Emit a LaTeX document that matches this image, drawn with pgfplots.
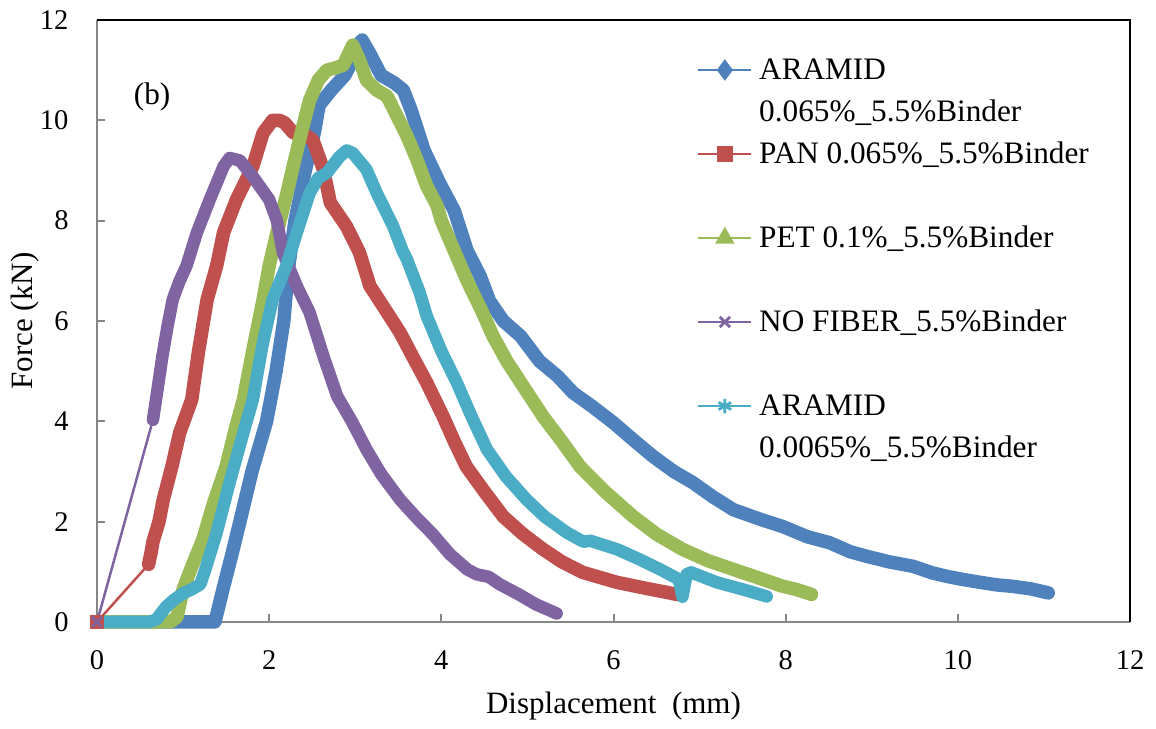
\documentclass[border=0pt]{standalone}
\usepackage{fontspec}
\setmainfont{Liberation Serif}
\usepackage{pgfplots}
\pgfplotsset{compat=1.18}
\usetikzlibrary{calc}
\definecolor{cblue}{HTML}{4F81BD}
\definecolor{cred}{HTML}{C0504D}
\definecolor{cgreen}{HTML}{9BBB59}
\definecolor{cpurple}{HTML}{8064A2}
\definecolor{ccyan}{HTML}{4BACC6}
\definecolor{axgray}{HTML}{868686}

\pgfplotsset{
  band/.style={line width=5.4pt, line join=round, line cap=round, forget plot},
  nband/.style={line width=5pt, line join=round, line cap=round, forget plot},
  thinline/.style={line width=1pt, forget plot},
  legline/.style={line width=1.1pt, mark options={solid}},
}

\begin{document}
\begin{tikzpicture}
\begin{axis}[
  name=ax,
  scale only axis,
  width=413.2pt, height=240.8pt,
  xmin=0, xmax=12, ymin=0, ymax=12,
  xtick={0,2,...,12}, ytick={0,2,...,12},
  tick align=inside, xtick pos=bottom, ytick pos=left,
  major tick length=3.2pt,
  tick style={color=axgray, line width=0.8pt},
  axis line style={draw=none},
  clip=false,
  /pgf/number format/assume math mode=true,
  ticklabel style={font=\fontsize{11.4}{13}\selectfont},
  xticklabel style={inner sep=0pt, yshift=-11.2pt},
  yticklabel style={inner sep=0pt, xshift=-11.2pt},
  xlabel={Displacement\ \ (mm)},
  ylabel={Force (kN)},
  label style={font=\fontsize{12.4}{14}\selectfont},
  xlabel style={at={(axis description cs:0.5,-0.1395)}, anchor=center},
  ylabel style={at={(axis description cs:-0.0697,0.5)}, anchor=center, rotate=0},
  legend cell align=left,
  legend image code/.code={\draw[mark repeat=2,mark phase=2] plot coordinates {(0pt,0pt) (10.6pt,0pt) (21.2pt,0pt)};},
  legend style={draw=none, fill=none, inner sep=0pt, outer sep=0pt,
    at={(axis description cs:0.5808,0.9518)}, anchor=north west,
    row sep=0pt, column sep=2.6pt,
    font=\fontsize{12.5}{14}\selectfont,
    nodes={inner sep=0pt, text height=12pt, text depth=4.8pt}},
]
\draw[axgray, line width=0.8pt] (rel axis cs:0,1) -- (rel axis cs:0,0) -- (rel axis cs:1,0);
\draw[black, line width=0.9pt] (rel axis cs:0,1) -- (rel axis cs:1,1) -- (rel axis cs:1,0);

% ARAMID 0.065%
\addplot[cblue, band] coordinates {
(0,0) (0.3,0) (0.6,0) (0.9,0) (1.2,0) (1.37,0) (1.42,0.35) (1.47,0.7) (1.56,1.3)
(1.66,2.0) (1.8,3.0) (1.97,4.0) (2.08,5.0) (2.17,6.0) (2.22,7.0) (2.3,8.0) (2.42,9.0)
(2.53,9.8) (2.58,10.3) (2.72,10.6) (2.88,10.9) (2.97,11.2) (3.03,11.5) (3.08,11.6)
(3.18,11.3) (3.3,10.9) (3.45,10.75) (3.56,10.6) (3.65,10.2) (3.8,9.4) (3.98,8.75)
(4.15,8.2) (4.3,7.4) (4.45,6.9) (4.56,6.4) (4.72,6.0) (4.92,5.7) (5.14,5.2) (5.35,4.9)
(5.53,4.57) (5.75,4.3) (6.0,3.97) (6.25,3.6) (6.46,3.3) (6.7,3.0) (6.92,2.78) (7.15,2.5)
(7.39,2.24) (7.7,2.05) (7.97,1.9) (8.25,1.7) (8.51,1.58) (8.75,1.4) (8.94,1.31) (9.2,1.2)
(9.48,1.11) (9.7,0.98) (9.87,0.91) (10.05,0.85) (10.26,0.79) (10.45,0.74) (10.64,0.71)
(10.85,0.66) (11.05,0.58)};

% PAN 0.065%
\addplot[cred, thinline] coordinates {(0,0) (0.6,1.15)};
\addplot[cred, only marks, mark=square*, mark size=2.6pt, forget plot] coordinates {(0,0)};
\addplot[cred, band] coordinates {
(0.6,1.15) (0.63,1.4) (0.65,1.6) (0.72,2.0) (0.77,2.44) (0.87,3.1) (0.96,3.77) (1.03,4.1)
(1.1,4.43) (1.18,5.4) (1.28,6.43) (1.39,7.1) (1.47,7.76) (1.62,8.42) (1.81,9.08)
(1.93,9.75) (2.04,10.0) (2.12,10.0) (2.18,9.95) (2.28,9.75) (2.43,9.7) (2.51,9.6)
(2.63,9.02) (2.71,8.36) (2.9,7.88) (3.05,7.36) (3.17,6.7) (3.37,6.17) (3.52,5.77)
(3.68,5.25) (3.83,4.77) (4.02,4.1) (4.15,3.6) (4.29,3.1) (4.5,2.6) (4.72,2.1) (4.95,1.75)
(5.18,1.45) (5.4,1.2) (5.64,0.99) (6.04,0.79) (6.35,0.68) (6.62,0.59) (6.73,0.55)};

% PET 0.1%
\addplot[cgreen, band] coordinates {
(0,0) (0.3,0) (0.6,0) (0.85,0) (0.93,0.1) (1.0,0.65) (1.1,1.1) (1.23,1.65) (1.36,2.4)
(1.5,3.1) (1.6,3.8) (1.7,4.43) (1.82,5.5) (1.93,6.43) (2.0,7.1) (2.09,7.76) (2.2,8.5)
(2.28,9.09) (2.38,9.8) (2.47,10.4) (2.57,10.8) (2.67,11.0) (2.78,11.05) (2.86,11.1)
(2.93,11.35) (2.97,11.5) (3.05,11.2) (3.13,10.8) (3.25,10.6) (3.37,10.48) (3.48,10.1)
(3.6,9.69) (3.72,9.2) (3.83,8.69) (3.95,8.3) (4.0,8.0) (4.15,7.4) (4.3,6.8) (4.47,6.2)
(4.6,5.7) (4.76,5.2) (4.97,4.65) (5.18,4.1) (5.4,3.6) (5.61,3.1) (5.9,2.6) (6.23,2.1)
(6.5,1.75) (6.8,1.45) (7.1,1.22) (7.39,1.05) (7.7,0.87) (7.95,0.72) (8.12,0.65) (8.3,0.55)};

% NO FIBER
\addplot[cpurple, thinline] coordinates {(0,0) (0.65,4.03)};
\addplot[cpurple, only marks, mark=x, mark size=2.8pt, line width=1pt, forget plot] coordinates {(0,0)};
\addplot[cpurple, nband] coordinates {
(0.65,4.03) (0.7,4.6) (0.76,5.3) (0.82,5.9) (0.88,6.43) (0.96,6.8) (1.04,7.1) (1.16,7.76)
(1.31,8.42) (1.47,9.08) (1.54,9.25) (1.66,9.2) (1.81,8.88) (2.0,8.42) (2.09,8.0)
(2.16,7.36) (2.32,6.7) (2.47,6.17) (2.63,5.3) (2.79,4.5) (2.96,4.0) (3.13,3.44) (3.3,2.95)
(3.52,2.44) (3.7,2.1) (3.9,1.75) (4.1,1.35) (4.3,1.05) (4.41,0.95) (4.55,0.9) (4.68,0.75)
(4.9,0.55) (5.1,0.35) (5.34,0.17)};

% ARAMID 0.0065%
\addplot[ccyan, nband] coordinates {
(0,0) (0.3,0) (0.6,0) (0.69,0.05) (0.8,0.3) (0.9,0.45) (1.0,0.57) (1.1,0.65) (1.2,0.75)
(1.27,1.11) (1.39,1.78) (1.54,2.78) (1.7,3.77) (1.81,4.43) (1.92,5.5) (2.04,6.43)
(2.2,7.1) (2.32,7.76) (2.47,8.55) (2.57,8.85) (2.67,8.95) (2.82,9.28) (2.9,9.4)
(2.97,9.35) (3.13,9.02) (3.25,8.55) (3.44,7.89) (3.55,7.4) (3.6,7.23) (3.75,6.56)
(3.83,6.1) (4.0,5.4) (4.18,4.77) (4.35,4.1) (4.53,3.44) (4.75,2.9) (4.99,2.44) (5.2,2.1)
(5.46,1.78) (5.65,1.6) (5.73,1.62) (6.04,1.45) (6.3,1.25) (6.54,1.05) (6.76,0.85)
(6.8,0.5) (6.85,0.95) (6.9,0.99) (7.2,0.79) (7.5,0.65) (7.78,0.51)};

\addlegendimage{cblue, legline, mark=diamond*, mark size=3.4pt}
\addlegendentry{ARAMID}
\addlegendimage{empty legend}
\addlegendentry{0.065\%\_5.5\%Binder}
\addlegendimage{cred, legline, mark=square*, mark size=2.7pt}
\addlegendentry{PAN 0.065\%\_5.5\%Binder}
\addlegendimage{empty legend}
\addlegendentry{}
\addlegendimage{cgreen, legline, mark=triangle*, mark size=3.4pt}
\addlegendentry{PET 0.1\%\_5.5\%Binder}
\addlegendimage{empty legend}
\addlegendentry{}
\addlegendimage{cpurple, legline, mark=x, mark size=2.9pt}
\addlegendentry{NO FIBER\_5.5\%Binder}
\addlegendimage{empty legend}
\addlegendentry{}
\addlegendimage{ccyan, legline, mark=asterisk, mark size=2.9pt}
\addlegendentry{ARAMID}
\addlegendimage{empty legend}
\addlegendentry{0.0065\%\_5.5\%Binder}

\node[font=\fontsize{12.5}{14}\selectfont] at (axis cs:0.64,10.47) {(b)};
\end{axis}
\path[use as bounding box] ($(ax.south west)+(-38.8pt,-41.6pt)$) rectangle ($(ax.north east)+(10.4pt,8pt)$);
\end{tikzpicture}
\end{document}
